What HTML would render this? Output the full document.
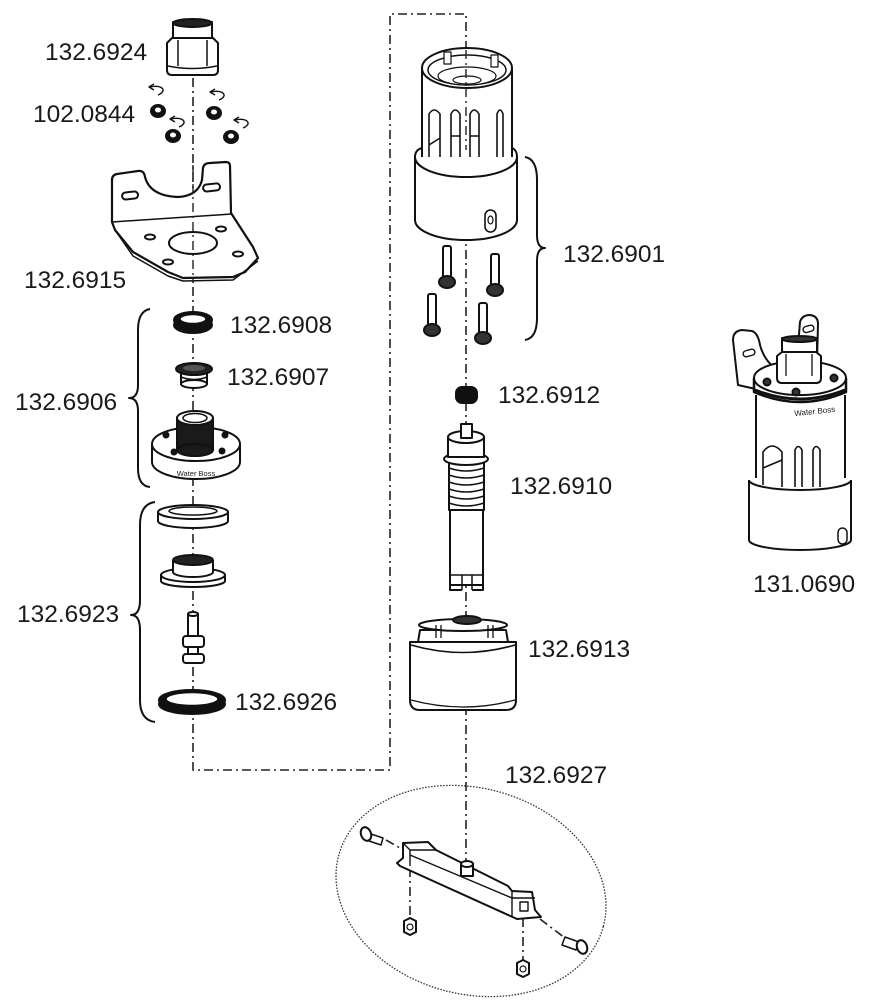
<!DOCTYPE html>
<html><head><meta charset="utf-8"><style>
html,body{margin:0;padding:0;background:#fff;}
svg{display:block;}
text{font-family:"Liberation Sans",Arial,sans-serif;fill:#1a1a1a;}
</style></head><body>
<svg width="887" height="1000" viewBox="0 0 887 1000" xmlns="http://www.w3.org/2000/svg">
<g fill="none" stroke="#222" stroke-width="1.6" stroke-dasharray="9,4,2,4">
<path d="M193,78 V770 H390 V14 H466 V862"/>
<path d="M386,840 L400,848"/>
<path d="M410,868 V918"/>
<path d="M523,918 V961"/>
<path d="M540,919 L565,938"/>
</g>

<g stroke="#111" stroke-width="2" fill="#fff" stroke-linejoin="round">
<!-- 132.6924 nut -->
<rect x="173" y="22" width="39" height="18"/>
<ellipse cx="192.5" cy="23" rx="19.5" ry="4" fill="#222"/>
<path d="M167,43 L172,38 H213 L218,43 V70 Q218,75 213,75 H172 Q167,75 167,70 Z"/>
<path d="M178,40 V66 M207,40 V66 M168,66 Q192,71 217,66" fill="none" stroke-width="1.5"/>

<!-- small nuts 102.0844 -->
<g fill="#111">
<ellipse cx="158" cy="111" rx="7" ry="6"/>
<ellipse cx="214" cy="113" rx="7" ry="6"/>
<ellipse cx="173" cy="136" rx="7" ry="6"/>
<ellipse cx="231" cy="137" rx="7" ry="6"/>
</g>
<g fill="#fff" stroke="none">
<ellipse cx="158" cy="110" rx="3" ry="2.5"/>
<ellipse cx="214" cy="112" rx="3" ry="2.5"/>
<ellipse cx="173" cy="135" rx="3" ry="2.5"/>
<ellipse cx="231" cy="136" rx="3" ry="2.5"/>
</g>
<g fill="none" stroke-width="1.4">
<path d="M150,87 C162,84 168,91 158,95"/><path d="M154,84 L149,87 L154,90"/>
<path d="M211,92 C223,89 229,96 219,100"/><path d="M215,89 L210,92 L215,95"/>
<path d="M171,119 C183,116 189,123 179,127"/><path d="M175,116 L170,119 L175,122"/>
<path d="M235,120 C247,117 253,124 243,128"/><path d="M239,117 L234,120 L239,123"/>
</g>

<!-- bracket 132.6915 -->
<path d="M112,222 V180 Q112,175 117,174 L138,171 Q144,170 145,177 Q150,196 178,197 Q198,196 202,180 L203,168 Q204,163 210,163 L226,162 Q230,162 230,166 L231,213 L253,247 L258,258 L245,272 L233,277 L183,278 L168,272 L133,252 L115,230 Z" stroke-width="2.2"/>
<path d="M112,222 L232,214" fill="none" stroke-width="1.5"/>
<path d="M115,230 L133,256 L168,276 L183,281 L233,280 L258,261" fill="none" stroke-width="1.5"/>
<ellipse cx="193" cy="243" rx="24" ry="11"/>
<ellipse cx="150" cy="237" rx="5" ry="2.5"/>
<ellipse cx="221" cy="229" rx="5" ry="2.5"/>
<ellipse cx="168" cy="262" rx="5" ry="2.5"/>
<ellipse cx="238" cy="254" rx="5" ry="2.5"/>
<rect x="122" y="192" width="16" height="7" rx="3.5" transform="rotate(-6 130 195)"/>
<rect x="203" y="184" width="17" height="7" rx="3.5" transform="rotate(-6 211 187)"/>

<!-- 132.6908 ring -->
<ellipse cx="193" cy="325" rx="19" ry="8" fill="#111"/>
<ellipse cx="193" cy="320" rx="19" ry="8" fill="#111"/>
<ellipse cx="193" cy="319" rx="13" ry="4.5" fill="#fff" stroke-width="1.5"/>

<!-- 132.6907 -->
<rect x="181" y="369" width="26" height="15"/>
<ellipse cx="194" cy="384" rx="13" ry="4"/>
<path d="M181,377 Q194,382 207,377" fill="none" stroke-width="1.5"/>
<ellipse cx="194" cy="369" rx="18" ry="6" fill="#222"/>
<ellipse cx="194" cy="368" rx="11" ry="3" fill="#555" stroke="none"/>

<!-- 132.6906 base -->
<path d="M152,444 V462 A44,17 0 0 0 240,462 V444" />
<ellipse cx="196" cy="444" rx="44" ry="17"/>
<rect x="177" y="418" width="36" height="32" fill="#1a1a1a"/>
<ellipse cx="195" cy="450" rx="18" ry="6" fill="#1a1a1a"/>
<ellipse cx="195" cy="418" rx="18" ry="7"/>
<ellipse cx="195" cy="418" rx="12" ry="4.5" stroke-width="1.5"/>
<circle cx="166" cy="435" r="2.5" fill="#111"/>
<circle cx="225" cy="435" r="2.5" fill="#111"/>
<circle cx="174" cy="452" r="2.5" fill="#111"/>
<circle cx="222" cy="451" r="2.5" fill="#111"/>

<!-- 132.6923 group -->
<path d="M158,512 V521 A35,7 0 0 0 228,521 V512"/>
<ellipse cx="193" cy="512" rx="35" ry="7"/>
<ellipse cx="193" cy="511" rx="24" ry="4" stroke-width="1.5"/>

<path d="M161,575 V581 A32,6 0 0 0 225,581 V575"/>
<ellipse cx="193" cy="575" rx="32" ry="7"/>
<path d="M173,560 V572 A20,5 0 0 0 213,572 V560"/>
<ellipse cx="193" cy="560" rx="20" ry="5" fill="#222"/>

<rect x="188" y="614" width="10" height="24"/>
<ellipse cx="193" cy="614" rx="5" ry="2"/>
<rect x="183" y="636" width="21" height="11" rx="3"/>
<rect x="188" y="647" width="10" height="8"/>
<rect x="183" y="654" width="21" height="9" rx="3"/>

<ellipse cx="192" cy="704" rx="33" ry="10" fill="#111"/>
<ellipse cx="192" cy="700" rx="33" ry="10" fill="#111"/>
<ellipse cx="192" cy="699" rx="26" ry="6.5" fill="#fff" stroke-width="1.5"/>

<!-- braces -->
<g fill="none" stroke-width="2">
<path d="M150,309 Q138,311 138,330 L138,385 Q138,398 129,398 Q138,398 138,411 L138,468 Q138,486 150,487"/>
<path d="M155,502 Q140,504 140,525 L140,600 Q140,615 131,615 Q140,615 140,630 L140,700 Q140,720 155,722"/>
<path d="M525,157 Q537,159 537,180 L537,235 Q537,248 545,248 Q537,248 537,261 L537,318 Q537,338 525,340"/>
</g>

<!-- 132.6901 housing -->
<path d="M422,68 V160 H512 V68"/>
<ellipse cx="467" cy="68" rx="45" ry="20"/>
<ellipse cx="467" cy="70" rx="39" ry="15" stroke-width="1.5"/>
<ellipse cx="467" cy="76" rx="29" ry="9" stroke-width="1.2"/>
<ellipse cx="467" cy="80" rx="14" ry="4" stroke-width="1.2"/>
<rect x="444" y="52" width="7" height="12" stroke-width="1.2"/>
<rect x="491" y="55" width="7" height="12" stroke-width="1.2"/>
<g fill="none" stroke-width="1.6">
<path d="M429,165 V114 Q434,106 440,114 V160"/>
<path d="M451,168 V114 Q455,106 460,114 V168 M451,136 H460"/>
<path d="M470,168 V114 Q474,106 479,114 V168 M470,136 H479"/>
<path d="M497,166 V114 Q500,106 503,114 V164"/>
<path d="M429,145 L440,138"/>
</g>
<path d="M415,157 V220 A51,20 0 0 0 517,220 V157"/>
<path d="M415,157 A51,20 0 0 0 517,157" fill="none"/>
<path d="M422,148 Q415,150 415,157 M512,148 Q517,150 517,157" fill="none"/>
<rect x="485" y="210" width="11" height="22" rx="5.5" stroke-width="1.6"/>
<ellipse cx="490.5" cy="220" rx="2.5" ry="4" stroke-width="1.2"/>

<!-- screws -->
<g>
<rect x="443" y="246" width="8" height="32" rx="2"/>
<ellipse cx="447" cy="282" rx="8" ry="6" fill="#333"/>
<rect x="491" y="254" width="8" height="32" rx="2"/>
<ellipse cx="495" cy="290" rx="8" ry="6" fill="#333"/>
<rect x="428" y="294" width="8" height="32" rx="2"/>
<ellipse cx="432" cy="330" rx="8" ry="6" fill="#333"/>
<rect x="479" y="303" width="8" height="32" rx="2"/>
<ellipse cx="483" cy="338" rx="8" ry="6" fill="#333"/>
</g>

<!-- 132.6912 -->
<rect x="456" y="387" width="21" height="16" rx="6" fill="#111"/>

<!-- 132.6910 cartridge -->
<rect x="450" y="505" width="33" height="80"/>
<path d="M450,575 H483 M462,575 V590 M472,575 V590" fill="none" stroke-width="1.5"/>
<path d="M450,585 V590 H462 M472,590 H483 V585" fill="none"/>
<rect x="449" y="460" width="35" height="50"/>
<g fill="none" stroke-width="1.5">
<path d="M449,468 Q466,474 484,468"/><path d="M449,475 Q466,481 484,475"/>
<path d="M449,482 Q466,488 484,482"/><path d="M449,489 Q466,495 484,489"/>
<path d="M449,496 Q466,502 484,496"/><path d="M449,503 Q466,509 484,503"/>
</g>
<ellipse cx="466" cy="459" rx="22" ry="6"/>
<path d="M448,437 V457 H484 V437"/>
<ellipse cx="466" cy="437" rx="18" ry="6"/>
<rect x="461" y="424" width="11" height="14"/>

<!-- 132.6913 plug -->
<path d="M410,642 V700 Q410,710 420,710 H506 Q516,710 516,700 V642 Z"/>
<path d="M420,630 L418,642 H508 L506,630 Z"/>
<path d="M411,645 Q463,660 515,645" fill="none" stroke-width="1.6"/>
<ellipse cx="463" cy="625" rx="44" ry="6"/>
<ellipse cx="467" cy="620" rx="14" ry="4" fill="#333"/>
<path d="M436,625 V638 M441,625 V638 M488,625 V638 M493,625 V638" fill="none" stroke-width="1.3"/>
<path d="M411,700 Q463,714 515,700" fill="none" stroke-width="1.3"/>

<!-- 132.6927 assembly -->
<path d="M397,863 L403,858 L403,843 L428,842 L436,850 L508,886 L512,891 L532,892 L535,910 L541,917 L517,919 L400,866 Z"/>
<path d="M403,843 L410,850 V866 M410,850 L436,850 M410,855 L512,898 M512,891 V917 M512,898 L535,898" fill="none" stroke-width="1.4"/>
<rect x="520" y="902" width="8" height="9" stroke-width="1.4"/>
<rect x="461" y="864" width="12" height="12"/>
<ellipse cx="467" cy="864" rx="6" ry="3"/>
<path d="M368,833 L383,838 L381,845 L366,840 Z" stroke-width="1.5"/>
<ellipse cx="366" cy="834" rx="5" ry="7" transform="rotate(-20 366 834)"/>
<path d="M565,937 L579,942 L576,950 L562,945 Z" stroke-width="1.5"/>
<ellipse cx="582" cy="947" rx="5" ry="7" transform="rotate(-20 582 947)"/>
<path d="M404,921 L410,918 L416,921 L416,932 L410,935 L404,932 Z"/>
<circle cx="410" cy="927" r="3" stroke-width="1.2"/>
<path d="M517,963 L523,960 L529,963 L529,974 L523,977 L517,974 Z"/>
<circle cx="523" cy="969" r="3" stroke-width="1.2"/>
</g>
<ellipse cx="471" cy="891" rx="137" ry="103" transform="rotate(15 471 891)" fill="none" stroke="#333" stroke-width="1.3" stroke-dasharray="1.5,1.5"/>

<!-- axis over transparent parts -->
<g fill="none" stroke="#222" stroke-width="1.4" stroke-dasharray="9,4,2,4">
<path d="M193,165 V282"/>
<path d="M466,50 V150"/>
</g>

<!-- assembled 131.0690 -->
<g stroke="#111" stroke-width="2" fill="#fff" stroke-linejoin="round">
<path d="M749,480 V540 A51,10 0 0 0 851,540 V480"/>
<path d="M749,480 A51,10 0 0 0 851,480" fill="none"/>
<path d="M756,395 V478 M845,395 V478" fill="none"/>
<g fill="none" stroke-width="1.6">
<path d="M763,485 V452 Q772,440 782,452 V487 M763,468 L782,460"/>
<path d="M795,487 V450 Q798,443 802,450 V487"/>
<path d="M813,487 V450 Q816,443 820,450 V487"/>
</g>
<rect x="838" y="528" width="9" height="16" rx="4.5" stroke-width="1.5"/>
<path d="M738,385 L733,340 Q733,331 742,330 L752,331 Q758,333 760,345 Q764,360 775,368 L760,390 Z"/>
<rect x="743" y="350" width="12" height="6" rx="3" transform="rotate(-15 749 353)" stroke-width="1.4"/>
<path d="M797,360 L800,322 Q802,315 810,315 Q818,316 818,324 L817,362 Z"/>
<rect x="803" y="326" width="11" height="6" rx="3" transform="rotate(-15 808 329)" stroke-width="1.4"/>
<path d="M754,378 V392 Q800,412 846,392 V378" stroke-width="2.5"/>
<path d="M755,390 Q800,408 845,390" fill="none" stroke-width="3"/>
<ellipse cx="800" cy="378" rx="46" ry="17"/>
<circle cx="767" cy="382" r="3.5" fill="#333"/>
<circle cx="834" cy="378" r="3.5" fill="#333"/>
<circle cx="796" cy="392" r="3.5" fill="#333"/>
<rect x="782" y="338" width="35" height="16"/>
<ellipse cx="799.5" cy="339" rx="17.5" ry="3" fill="#333"/>
<path d="M777,356 L782,352 H816 L821,356 V378 Q821,383 816,383 H782 Q777,383 777,378 Z"/>
<path d="M786,354 V376 M812,354 V376" fill="none" stroke-width="1.3"/>
</g>
<text x="815" y="414" font-size="8" text-anchor="middle" transform="rotate(-6 815 414)">Water Boss</text>
<text x="196" y="476" font-size="7.5" text-anchor="middle">Water Boss</text>

<!-- labels -->
<g font-size="24.5">
<text x="45" y="60">132.6924</text>
<text x="33" y="122">102.0844</text>
<text x="24" y="288">132.6915</text>
<text x="230" y="333">132.6908</text>
<text x="227" y="385">132.6907</text>
<text x="15" y="410">132.6906</text>
<text x="17" y="622">132.6923</text>
<text x="235" y="710">132.6926</text>
<text x="563" y="262">132.6901</text>
<text x="498" y="403">132.6912</text>
<text x="510" y="494">132.6910</text>
<text x="528" y="657">132.6913</text>
<text x="505" y="783">132.6927</text>
<text x="753" y="592">131.0690</text>
</g>
</svg>
</body></html>
